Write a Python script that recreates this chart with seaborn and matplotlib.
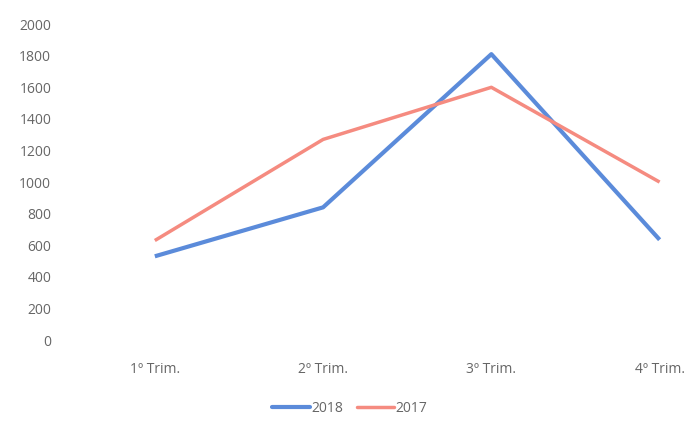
import matplotlib
matplotlib.use("Agg")
import matplotlib.pyplot as plt
import seaborn as sns
import pandas as pd
from matplotlib.lines import Line2D

quarters = ["1º Trim.", "2º Trim.", "3º Trim.", "4º Trim."]
sales_2018 = [530, 840, 1810, 635]
sales_2017 = [630, 1270, 1600, 1000]
years = ["2018", "2017"]
y_ticks = [0, 200, 400, 600, 800, 1000, 1200, 1400, 1600, 1800, 2000]

df = pd.DataFrame({
    "Trimestre": quarters * 2,
    "Valor": sales_2018 + sales_2017,
    "Ano": [years[0]] * 4 + [years[1]] * 4,
})

sns.set_theme(style="white")
plt.rcParams["font.family"] = ["Open Sans", "DejaVu Sans"]

fig = plt.figure(figsize=(7.0, 4.28), dpi=100)
ax = fig.add_axes([0.101, 0.2056, 0.899, 0.738])

palette = {"2018": "#5B8BDA", "2017": "#F58B80"}
sns.lineplot(data=df, x="Trimestre", y="Valor", hue="Ano", palette=palette,
             sort=False, ax=ax, legend=False)
for line, lw in zip(ax.lines, [3.0, 2.5]):
    line.set_linewidth(lw)
    line.set_solid_capstyle("butt")

ax.set_xlim(-0.5, 3.24)
ax.set_ylim(0, 2000)
ax.set_yticks(y_ticks)
ax.set_yticklabels([str(v) for v in y_ticks])
ax.set_xlabel("")
ax.set_ylabel("")
for s in ax.spines.values():
    s.set_visible(False)
ax.tick_params(axis="both", length=0, labelsize=10, labelcolor="#666666")
ax.tick_params(axis="y", pad=14)
ax.tick_params(axis="x", pad=16)

handles = [Line2D([0], [0], color=palette[y], lw=3.0 if y == "2018" else 2.5) for y in years]
fig.legend(handles, years, loc="center", bbox_to_anchor=(0.50, 0.045), ncol=2,
           frameon=False, fontsize=10, handlelength=2.7, handletextpad=0.1,
           columnspacing=1.0, labelcolor="#666666")

fig.savefig("out.png", dpi=100, facecolor="white")
